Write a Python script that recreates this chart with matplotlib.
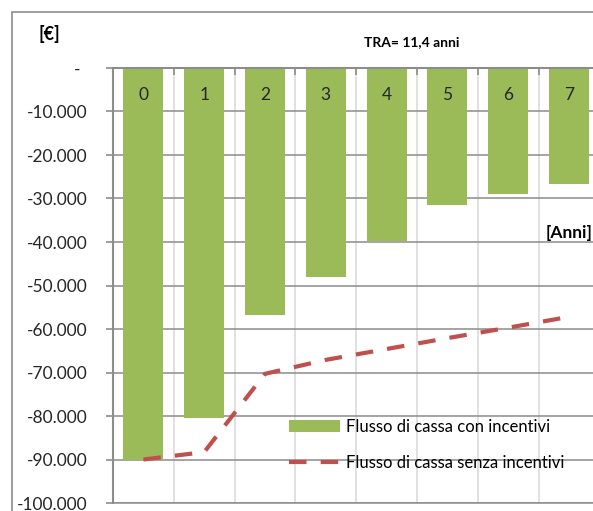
"""Flusso di cassa cumulato con e senza incentivi."""

import matplotlib

matplotlib.use("Agg")
import matplotlib.pyplot as plt
import matplotlib.transforms as mtransforms
from matplotlib.patches import Rectangle
from matplotlib.ticker import FixedLocator, FuncFormatter

anni = [0, 1, 2, 3, 4, 5, 6, 7]
con_incentivi = [-90000, -80500, -56800, -48000, -39800, -31500, -29000, -26700]
senza_incentivi = [-90000, -88300, -70300, -67100, -64600, -62100, -59700, -57200]
y_ticks = list(range(0, -100001, -10000))

GREEN = "#9bbb59"
RED = "#c0504d"
GRID = "#8c8c8c"
plt.rcParams["font.family"] = ["Lato", "DejaVu Sans"]

fig = plt.figure(figsize=(5.93, 5.11), dpi=100)
ax = fig.add_axes([113 / 593, 1 - 503 / 511, 1 - 113 / 593, (503 - 68) / 511])

bars = ax.bar(anni, con_incentivi, width=0.66, color=GREEN, zorder=2,
              label="Flusso di cassa con incentivi")
line, = ax.plot(anni, senza_incentivi, color=RED, lw=3, dashes=(4.2, 3.4),
                zorder=3, label="Flusso di cassa senza incentivi")

ax.set_xlim(-0.5, -0.5 + (593 - 113) / 60.8)
ax.set_ylim(-100000, 0)

# y axis
ax.set_yticks(y_ticks)
ax.yaxis.set_major_formatter(FuncFormatter(
    lambda v, _: "-" if v == 0 else f"{v:,.0f}".replace(",", ".")))
ax.tick_params(axis="y", length=5, width=1.2, color=GRID, pad=13,
               labelsize=12.5, labelcolor="#262626")
ax.grid(axis="y", color=GRID, lw=1.1, zorder=0)
# accounting style: the zero dash sits a bit left of the numbers
zero_lbl = ax.yaxis.get_major_ticks()[0].label1
zero_lbl.set_transform(zero_lbl.get_transform()
                       + mtransforms.ScaledTranslation(-0.075, 0, fig.dpi_scale_trans))

# category axis at top, labels inside the plot area
ax.xaxis.tick_top()
ax.set_xticks(anni)
ax.tick_params(axis="x", which="major", length=0, labeltop=False)
ax.xaxis.set_minor_locator(FixedLocator([a + 0.5 for a in range(-1, 9)]))
ax.tick_params(axis="x", which="minor", direction="in", length=5,
               width=1.2, color=GRID)
ax.grid(axis="x", which="minor", color="#d9d9d9", lw=1.1, zorder=0)
trans = mtransforms.blended_transform_factory(ax.transData, ax.transAxes)
for a in anni:
    ax.text(a, 1 - 27 / 435, str(a), transform=trans, ha="center",
            va="center", fontsize=12.5, color="#262626", zorder=4)

ax.spines["right"].set_visible(False)
ax.spines["bottom"].set_color(GRID)
ax.spines["bottom"].set_linewidth(1.1)
for side in ["left", "top"]:
    ax.spines[side].set_color(GRID)
    ax.spines[side].set_linewidth(1.5)

ax.legend([bars, line], [bars.get_label(), line.get_label()],
          loc="upper left", bbox_to_anchor=((289 - 113) / 480, (503 - 419) / 435),
          frameon=False, fontsize=12, handlelength=3.05, handletextpad=0.4,
          labelspacing=1.2, borderpad=0, borderaxespad=0)

fig.text(49 / 593, 1 - 34 / 511, "[€]", fontsize=13, fontweight="bold",
         ha="center", va="center")
fig.text(412 / 593, 1 - 42 / 511, "TRA= 11,4 anni", fontsize=10,
         fontweight="bold", ha="center", va="center")
fig.text(546 / 593, 1 - 233 / 511, "[Anni]", fontsize=12.5, fontweight="bold",
         ha="left", va="center")

fig.patches.append(Rectangle((12 / 593, -0.1), 1.2, 1.1 - 12 / 511,
                             transform=fig.transFigure, fill=False,
                             edgecolor=GRID, lw=1.2))

fig.savefig("out.png", dpi=100)
